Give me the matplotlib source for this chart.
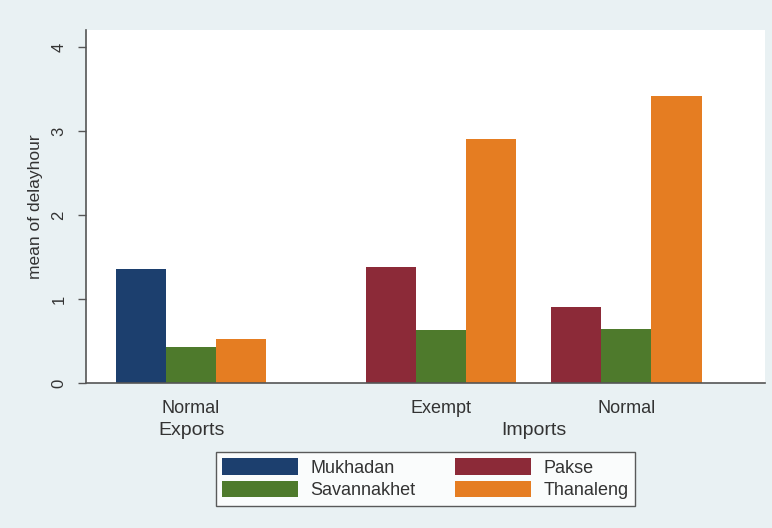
import matplotlib.pyplot as plt
import numpy as np

plt.rcParams['font.family'] = ['Liberation Sans', 'DejaVu Sans']

# groups on the x axis
outer_groups = ["Exports", "Imports"]
inner_labels = ["Normal", "Exempt", "Normal"]
inner_outer = [0, 1, 1]

# mean of delayhour per site (None = no bar)
sites = ["Mukhadan", "Pakse", "Savannakhet", "Thanaleng"]
colors = ["#1c3f6e", "#8c2a38", "#4e7a2c", "#e57d22"]
mukhadan = [1.36, None, None]
pakse = [None, 1.38, 0.90]
savannakhet = [0.43, 0.63, 0.64]
thanaleng = [0.52, 2.90, 3.42]
series = [mukhadan, pakse, savannakhet, thanaleng]

fig = plt.figure(figsize=(7.72, 5.28), dpi=100, facecolor="#e9f1f3")
ax = fig.add_axes([0.1114, 0.2746, 0.8796, 0.6684])
ax.set_facecolor("white")

# lay bars out Stata style: no slot for missing sites
gap_outer = 2.0
gap_inner = 0.7
pos = 0.0
handles = {}
centers = []
outer_span = {}
for g in range(len(inner_labels)):
    if g > 0:
        pos += 1.0 + (gap_outer if inner_outer[g] != inner_outer[g - 1] else gap_inner)
    xs = []
    for s, vals in enumerate(series):
        v = vals[g]
        if v is None:
            continue
        b = ax.bar(pos, v, width=1.0, color=colors[s], linewidth=0)
        handles[sites[s]] = b
        xs.append(pos)
        pos += 1.0
    pos -= 1.0
    centers.append(np.mean(xs))
    outer_span.setdefault(inner_outer[g], []).extend(xs)

ax.set_xlim(-1.1, 12.47)
ax.set_ylim(0, 4.2)
ax.set_xticks(centers)
ax.set_xticklabels(inner_labels, fontsize=13, color="#333333")
ax.tick_params(axis="x", length=0, pad=12)
ax.set_yticks([0, 1, 2, 3, 4])
ax.set_yticklabels(["0", "1", "2", "3", "4"], rotation=90, va="center",
                   fontsize=12, color="#333333")
ax.tick_params(axis="y", length=6, width=1, color="#555555", pad=8)
ax.set_ylabel("mean of delayhour", fontsize=12.5, color="#333333", labelpad=6)

for sp in ["top", "right"]:
    ax.spines[sp].set_visible(False)
for sp in ["left", "bottom"]:
    ax.spines[sp].set_color("#555555")
    ax.spines[sp].set_linewidth(1.2)

for k, name in enumerate(outer_groups):
    xs = outer_span[k]
    ax.text((min(xs) + max(xs)) / 2, -0.56, name, ha="center", va="center",
            fontsize=14, color="#333333", transform=ax.transData)

order = ["Mukhadan", "Savannakhet", "Pakse", "Thanaleng"]
leg = fig.legend([handles[n] for n in order], order, ncol=2,
                 loc="center", bbox_to_anchor=(0.551, 0.093),
                 fontsize=13, frameon=True, fancybox=False,
                 handlelength=4.2, handleheight=1.0, columnspacing=2.2,
                 handletextpad=0.7, labelspacing=0.25, borderpad=0.35)
leg.get_frame().set_edgecolor("#333333")
leg.get_frame().set_linewidth(1.0)
leg.get_frame().set_facecolor("white")
for t in leg.get_texts():
    t.set_color("#333333")

fig.savefig("out.png", dpi=100, facecolor=fig.get_facecolor())
